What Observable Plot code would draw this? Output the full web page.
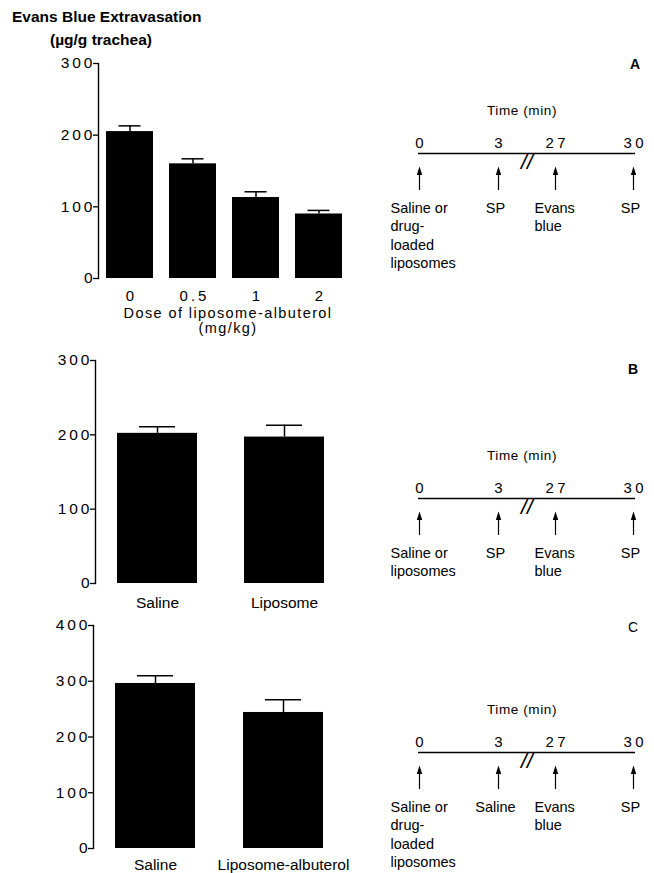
<!DOCTYPE html>
<html>
<head>
<meta charset="utf-8">
<script src="https://cdn.jsdelivr.net/npm/d3@7"></script>
<script src="https://cdn.jsdelivr.net/npm/@observablehq/plot@0.6"></script>
<style>
  html, body { margin: 0; padding: 0; background: #fff; }
  #root { position: relative; width: 654px; height: 873px; overflow: hidden; font-family: "Liberation Sans", Arial, sans-serif; color: #000; }
  .abs { position: absolute; white-space: nowrap; }
  .title { font-weight: bold; font-size: 15.5px; line-height: 20px; }
  .letter { font-size: 14px; }
  svg { overflow: visible; }
</style>
</head>
<body>
<div id="root">
  <div class="abs title" style="left:12px;top:7px;">Evans Blue Extravasation</div>
  <div class="abs title" style="left:50px;top:30px;">(µg/g trachea)</div>
  <div class="abs letter" style="left:630px;top:56px;font-weight:bold;">A</div>
  <div class="abs letter" style="left:628px;top:361px;font-weight:bold;">B</div>
  <div class="abs letter" style="left:628px;top:619px;">C</div>
</div>
<script>
// ---------- data ----------
const doseCats = ["0", "0.5", "1", "2"];
const doseMeans = [205, 160, 113, 90];
const doseSem = [8, 7, 8, 5];
const doseTicks = [0, 100, 200, 300];
const doseTitle = "Dose of liposome-albuterol\n(mg/kg)";

const bCats = ["Saline", "Liposome"];
const bMeans = [202, 197];
const bSem = [9, 16];
const bTicks = [0, 100, 200, 300];

const cCats = ["Saline", "Liposome-albuterol"];
const cMeans = [296, 244];
const cSem = [14, 23];
const cTicks = [0, 100, 200, 300, 400];

const timeLabels = ["0", "3", "27", "30"];
const timeValues = [0, 3, 27, 30];
const timeTitle = "Time (min)";
const eventsA = ["Saline or\ndrug-\nloaded\nliposomes", "SP", "Evans\nblue", "SP"];
const eventsB = ["Saline or\nliposomes", "SP", "Evans\nblue", "SP"];
const eventsC = ["Saline or\ndrug-\nloaded\nliposomes", "Saline", "Evans\nblue", "SP"];

// ---------- helpers ----------
const root = document.getElementById("root");
const FONT = "Liberation Sans, Arial, sans-serif";

function place(svg, left, top) {
  const wrap = document.createElement("div");
  wrap.className = "abs";
  wrap.style.left = left + "px";
  wrap.style.top = top + "px";
  wrap.appendChild(svg);
  root.appendChild(wrap);
}
// letter-spacing for text elements whose content is in a given list
function spaceTexts(svg, contents, ls) {
  const set = new Set(contents.map(String));
  d3.select(svg).selectAll("text").filter(function () { return set.has(this.textContent); })
    .style("letter-spacing", ls + "px");
}
// arrowhead symbol (narrow filled triangle)
const arrowHead = {
  draw(ctx) { ctx.moveTo(0, -4); ctx.lineTo(2.7, 4.5); ctx.lineTo(-2.7, 4.5); ctx.closePath(); }
};

function barChart(o) {
  const data = o.cats.map((c, i) => ({cat: c, mean: o.means[i], top: o.means[i] + o.sems[i]}));
  const marks = [
    Plot.barY(data, {x: "cat", y: "mean", fill: "#000"}),
    Plot.ruleX(data, {x: "cat", y1: "mean", y2: "top", stroke: "#000", strokeWidth: 1.5}),
    Plot.tickY(data, {x: "cat", y: "top", stroke: "#000", strokeWidth: 1.5, insetLeft: o.cap, insetRight: o.cap}),
    Plot.frame({anchor: "left", stroke: "#000", strokeWidth: 1.4}),
    Plot.axisY({ticks: o.ticks, tickSize: 5, tickPadding: -2, fontSize: 15.5, tickFormat: d => String(d), label: null, strokeWidth: 1.3}),
    Plot.axisX({tickSize: 0, tickPadding: o.xPad, fontSize: o.xFont, label: null, dx: o.xls / 2})
  ];
  if (o.title) {
    marks.push(Plot.text([o.title], {text: d => d, frameAnchor: "bottom", dy: 28, dx: 3, lineAnchor: "top", lineHeight: 1.08, fontSize: 14.5}));
  }
  const svg = Plot.plot({
    width: o.width, height: o.height,
    marginLeft: o.ml, marginRight: o.mr, marginTop: o.mt, marginBottom: o.mb,
    style: {fontFamily: FONT, color: "#000", background: "transparent"},
    x: {domain: o.cats, paddingInner: o.pi, paddingOuter: o.po, axis: null},
    y: {domain: [0, o.ymax], axis: null},
    marks
  });
  spaceTexts(svg, o.ticks, 3);
  if (o.xls) spaceTexts(svg, o.cats, o.xls);
  if (o.title) d3.select(svg).selectAll("text").filter(function () { return this.querySelector("tspan"); })
    .style("letter-spacing", "1.4px");
  return svg;
}

function timeline(events, height) {
  const ev = timeValues.map((t, i) => ({t, label: timeLabels[i], text: events[i], i}));
  const gap = [(timeValues[1] + timeValues[2]) / 2];
  const labelOpts = {x: "t", text: "text", frameAnchor: "bottom", dy: 10, lineAnchor: "top", lineHeight: 1.25, fontSize: 14.5};
  const svg = Plot.plot({
    width: 274, height,
    marginLeft: 38, marginRight: 19, marginTop: 60, marginBottom: height - 97,
    style: {fontFamily: FONT, color: "#000", background: "transparent"},
    x: {type: "linear", domain: timeValues, range: [39, 118, 175, 253], axis: null},
    y: {domain: [0, 1], axis: null},
    marks: [
      Plot.ruleY([1], {stroke: "#000", strokeWidth: 1.3}),
      Plot.text(gap, {x: d => d, text: () => "//", frameAnchor: "top", fontSize: 22, fontStyle: "italic", fill: "#000"}),
      Plot.text([timeTitle], {text: d => d, frameAnchor: "top", dy: -48, dx: -5, fontSize: 13.5}),
      Plot.text(ev, {x: "t", text: "label", frameAnchor: "top", dy: -16, dx: 1.75, fontSize: 15}),
      Plot.ruleX(ev, {x: "t", insetTop: 17, stroke: "#000", strokeWidth: 1.2}),
      Plot.dot(ev, {x: "t", frameAnchor: "top", dy: 17, symbol: arrowHead, r: 3, fill: "#000", stroke: null}),
      Plot.text(ev, {...labelOpts, filter: d => d.i === 0, dx: -29, textAnchor: "start"}),
      Plot.text(ev, {...labelOpts, filter: d => d.text.startsWith("Evans"), dx: -21, textAnchor: "start"}),
      Plot.text(ev, {...labelOpts, filter: d => d.i > 0 && !d.text.startsWith("Evans"), dx: -3, textAnchor: "middle"})
    ]
  });
  spaceTexts(svg, timeLabels, 3.5);
  spaceTexts(svg, [timeTitle], 0.6);
  return svg;
}

// ---------- panel A ----------
place(barChart({
  cats: doseCats, means: doseMeans, sems: doseSem, ticks: doseTicks, ymax: 300,
  width: 360, height: 300, ml: 98, mr: 9, mt: 18, mb: 67,
  pi: 0.25, po: 0.125, cap: 12.5, xPad: 12, xFont: 15, xls: 3, title: doseTitle
}), 0, 45);
place(timeline(eventsA, 185), 380, 93);

// ---------- panel B ----------
place(barChart({
  cats: bCats, means: bMeans, sems: bSem, ticks: bTicks, ymax: 300,
  width: 360, height: 280, ml: 95, mr: 14, mt: 20, mb: 37,
  pi: 0.373, po: 0.17, cap: 22, xPad: 13, xFont: 15.5, xls: 0
}), 0, 340);
place(timeline(eventsB, 150), 380, 438);

// ---------- panel C ----------
place(barChart({
  cats: cCats, means: cMeans, sems: cSem, ticks: cTicks, ymax: 400,
  width: 380, height: 268, ml: 93, mr: 35, mt: 20, mb: 25,
  pi: 0.373, po: 0.17, cap: 22, xPad: 10, xFont: 15.5, xls: 0
}), 0, 605);
place(timeline(eventsC, 181), 380, 692);
</script>
</body>
</html>
